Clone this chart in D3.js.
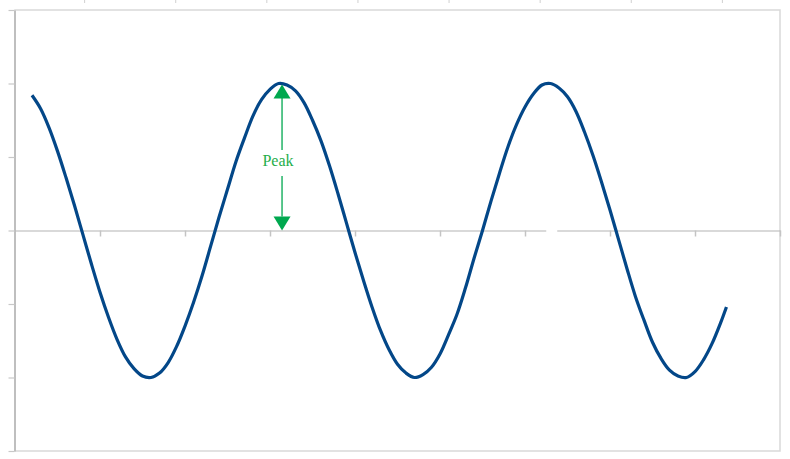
<!DOCTYPE html>
<html>
<head>
<meta charset="utf-8">
<script src="https://cdn.jsdelivr.net/npm/d3@7"></script>
<style>
  html, body { margin: 0; padding: 0; background: #ffffff; }
  svg { display: block; }
</style>
</head>
<body>
<svg id="chart" width="790" height="459"></svg>
<script>
// ---- data ----
const xValues = [0.2, 0.3, 0.4, 0.5, 0.6, 0.7, 0.8, 0.9, 1.0, 1.1,
                 1.2, 1.3, 1.4, 1.5, 1.6, 1.7, 1.8, 1.9, 2.0, 2.1,
                 2.2, 2.3, 2.4, 2.5, 2.6, 2.7, 2.8, 2.9, 3.0, 3.1,
                 3.2, 3.3, 3.4, 3.5, 3.6, 3.7, 3.8, 3.9, 4.0, 4.1,
                 4.2, 4.3, 4.4, 4.5, 4.6, 4.7, 4.8, 4.9, 5.0, 5.1,
                 5.2, 5.3, 5.4, 5.5, 5.6, 5.7, 5.8, 5.9, 6.0, 6.1,
                 6.2, 6.3, 6.4, 6.5, 6.6, 6.7, 6.8, 6.9, 7.0, 7.1,
                 7.2, 7.3, 7.4, 7.5, 7.6, 7.7, 7.8, 7.9, 8.0, 8.1,
                 8.2, 8.3, 8.37];
const yValues = [0.92, 0.83, 0.70, 0.54, 0.36, 0.17, -0.03, -0.23, -0.42, -0.59,
                 -0.74, -0.86, -0.94, -0.99, -1.00, -0.97, -0.90, -0.79, -0.65, -0.49,
                 -0.31, -0.11, 0.09, 0.28, 0.47, 0.63, 0.78, 0.89, 0.96, 1.00,
                 0.99, 0.95, 0.87, 0.75, 0.61, 0.44, 0.25, 0.05, -0.15, -0.34,
                 -0.52, -0.68, -0.81, -0.91, -0.97, -1.00, -0.98, -0.93, -0.84, -0.71,
                 -0.57, -0.39, -0.19, 0.00, 0.20, 0.39, 0.57, 0.72, 0.84, 0.93,
                 0.99, 1.00, 0.97, 0.91, 0.81, 0.67, 0.51, 0.33, 0.14, -0.06,
                 -0.26, -0.45, -0.61, -0.76, -0.87, -0.95, -0.99, -1.00, -0.96, -0.88,
                 -0.77, -0.63, -0.52];
const xTickValues = [1, 2, 3, 4, 5, 6, 7, 8, 9];
const yTickValues = [-1.5, -1, -0.5, 0, 0.5, 1, 1.5];
const topTickValues = [1, 2, 3, 4, 5, 6, 7, 8];
const peakX = [3.1416];
const peakTop = [1];
const peakBottom = [0];
const peakLabel = ["Peak"];

// ---- drawing ----
const svg = d3.select("#chart");
const x = d3.scaleLinear().domain([0, 9]).range([15, 780]);
const y = d3.scaleLinear().domain([-1.5, 1.5]).range([451, 10]);
const xTop = d3.scaleLinear().domain([0, 9]).range([-7, 813]);

// top ticks (partial axis visible above the plot)
svg.append("g")
  .attr("transform", "translate(0,3)")
  .call(d3.axisTop(xTop).tickValues(topTickValues).tickSize(3).tickSizeOuter(0).tickFormat(""))
  .call(g => g.select(".domain").remove())
  .call(g => g.selectAll("line").attr("stroke", "#d0d0d0").attr("stroke-width", 1));

// plot area border
svg.append("rect")
  .attr("x", x(0)).attr("y", y(1.5))
  .attr("width", x(9) - x(0)).attr("height", y(-1.5) - y(1.5))
  .attr("fill", "none").attr("stroke", "#d9d9d9").attr("stroke-width", 1.5);

// y axis
svg.append("g")
  .attr("transform", `translate(${x(0) - 0.5},0)`)
  .call(d3.axisLeft(y).tickValues(yTickValues).tickSize(6).tickSizeOuter(0).tickFormat(""))
  .call(g => g.select(".domain").attr("stroke", "#bcbcbc").attr("stroke-width", 1.8))
  .call(g => g.selectAll(".tick line").attr("stroke", "#c8c8c8").attr("stroke-width", 1.2));

// x axis at y = 0
svg.append("g")
  .attr("transform", `translate(0,${y(0)})`)
  .call(d3.axisBottom(x).tickValues(xTickValues).tickSize(6).tickSizeOuter(0).tickFormat(""))
  .call(g => g.select(".domain").attr("stroke", "#b4b4b4").attr("stroke-width", 1.2))
  .call(g => g.selectAll(".tick line").attr("stroke", "#c4c4c4").attr("stroke-width", 1.5));

// small white gap in the axis line
svg.append("rect")
  .attr("x", x(6.25)).attr("y", y(0) - 3)
  .attr("width", 11).attr("height", 5)
  .attr("fill", "#ffffff");

// curve
const pts = xValues.map((v, i) => [v, yValues[i]]);
svg.append("path")
  .datum(pts)
  .attr("fill", "none")
  .attr("stroke", "#034788")
  .attr("stroke-width", 3.2)
  .attr("stroke-linejoin", "round")
  .attr("d", d3.line().x(d => x(d[0])).y(d => y(d[1])).curve(d3.curveCatmullRom.alpha(0.5)));

// peak annotation (double arrow)
const green = "#00a84f";
const ax = x(peakX[0]);
const yT = y(peakTop[0]);
const yB = y(peakBottom[0]);
const headH = 14, headW = 8.5;
const ann = svg.append("g");
const textY = (yT + yB) / 2 + 9;
ann.append("line")
  .attr("x1", ax).attr("x2", ax).attr("y1", yT + headH).attr("y2", textY - 16)
  .attr("stroke", green).attr("stroke-width", 1.3);
ann.append("line")
  .attr("x1", ax).attr("x2", ax).attr("y1", textY + 10).attr("y2", yB - headH)
  .attr("stroke", green).attr("stroke-width", 1.3);
ann.append("path")
  .attr("d", `M${ax},${yT + 1}L${ax - headW},${yT + headH + 1}L${ax + headW},${yT + headH + 1}Z`)
  .attr("fill", green);
ann.append("path")
  .attr("d", `M${ax},${yB}L${ax - headW},${yB - headH}L${ax + headW},${yB - headH}Z`)
  .attr("fill", green);
ann.append("text")
  .attr("x", ax - 4).attr("y", textY)
  .attr("text-anchor", "middle")
  .attr("font-family", "'Liberation Serif', 'DejaVu Serif', serif")
  .attr("font-size", 16)
  .attr("fill", "#1fae4a")
  .text(peakLabel[0]);
</script>
</body>
</html>
